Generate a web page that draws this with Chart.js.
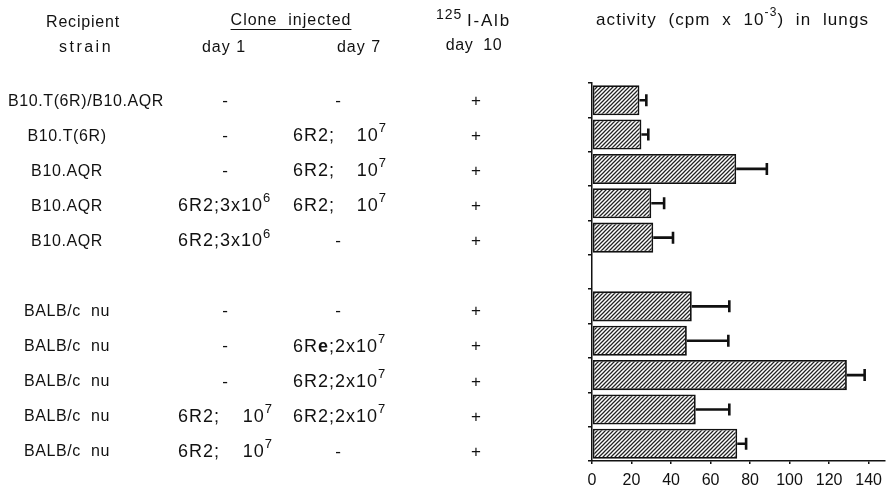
<!DOCTYPE html>
<html><head><meta charset="utf-8">
<script src="https://cdn.jsdelivr.net/npm/chart.js@4.4.0/dist/chart.umd.min.js"></script>
<style>html,body{margin:0;padding:0;background:#fff;overflow:hidden;} #wrap{width:891px;height:488px;}</style>
</head><body><div id="wrap"><canvas id="c" width="891" height="488"></canvas></div>
<script>
// ---- data ----
const strains = ['B10.T(6R)/B10.AQR','B10.T(6R)','B10.AQR','B10.AQR','B10.AQR','','BALB/c  nu','BALB/c  nu','BALB/c  nu','BALB/c  nu','BALB/c  nu'];
const cloneDay1 = ['-','-','-','6R2;3x10^6','6R2;3x10^6','','-','-','-','6R2;10^7','6R2;10^7'];
const cloneDay7 = ['-','6R2;10^7','6R2;10^7','6R2;10^7','-','','-','6R*e*;2x10^7','6R2;2x10^7','6R2;2x10^7','-'];
const albDay10 = ['+','+','+','+','+','','+','+','+','+','+'];
const activity = [24,25,73,30,31,null,50.5,48,129,52.5,73.5];
const activityErr = [3.5,3.5,15.5,6.5,10,null,19,21,9,17,4.5];
const xTicks = [0,20,40,60,80,100,120,140];

const FAM = '"Liberation Sans", Arial, Helvetica, sans-serif';
const canvas = document.getElementById('c');
const ctx0 = canvas.getContext('2d');

function hatch(){
  const s=4, c=document.createElement('canvas'); c.width=s; c.height=s;
  const g=c.getContext('2d'); g.fillStyle='#fff'; g.fillRect(0,0,s,s);
  g.strokeStyle='#222'; g.lineWidth=1.25; g.lineCap='square';
  g.beginPath();
  g.moveTo(0,s); g.lineTo(s,0);
  g.moveTo(-1,1); g.lineTo(1,-1);
  g.moveTo(s-1,s+1); g.lineTo(s+1,s-1);
  g.stroke();
  return ctx0.createPattern(c,'repeat');
}

function parseRich(str){
  const segs=[]; let sup=false,bold=false,buf='';
  const push=()=>{ if(buf){ segs.push({t:buf,sup,bold}); buf=''; } };
  for(const ch of str){
    if(ch==='^'){ push(); sup=!sup; }
    else if(ch==='*'){ push(); bold=!bold; }
    else buf+=ch;
  }
  push(); return segs;
}
function fontFor(seg,size){ return (seg.bold?'bold ':'')+(seg.sup?Math.round(size*0.72):size)+'px '+FAM; }
function measureRich(ctx,str,size,ls){
  ctx.letterSpacing=(ls||0)+'px';
  let w=0; parseRich(str).forEach(s=>{ ctx.font=fontFor(s,size); w+=ctx.measureText(s.t).width; });
  return w;
}
function drawRich(ctx,str,x,y,align,size,ls){
  const segs=parseRich(str); ctx.letterSpacing=(ls||0)+'px';
  let w=0; segs.forEach(s=>{ ctx.font=fontFor(s,size); s.w=ctx.measureText(s.t).width; w+=s.w; });
  let cx = align==='center' ? x-w/2 : align==='right' ? x-w : x;
  ctx.textAlign='left'; ctx.textBaseline='middle';
  segs.forEach(s=>{ ctx.font=fontFor(s,size); ctx.fillText(s.t,cx,s.sup?y-size*0.42:y); cx+=s.w; });
  return w;
}
function drawClone(ctx,v,left,right,dashX,py){
  if(!v) return;
  if(v==='-'){ drawRich(ctx,v,dashX,py,'center',17,0); return; }
  if(v.indexOf('x')>=0){ drawRich(ctx,v,left,py,'left',18,1.0); return; }
  const k=v.indexOf(';');
  drawRich(ctx,v.slice(0,k+1),left,py,'left',18,1.0);
  drawRich(ctx,v.slice(k+1),right,py,'right',18,1.0);
}

const errPlugin={id:'err',afterDatasetsDraw(chart){
  const ctx=chart.ctx, xs=chart.scales.x, meta=chart.getDatasetMeta(0);
  ctx.save(); ctx.strokeStyle='#111'; ctx.lineWidth=2.6; ctx.lineCap='butt';
  meta.data.forEach((bar,i)=>{
    if(activity[i]==null) return;
    const x0=xs.getPixelForValue(activity[i]), x1=xs.getPixelForValue(activity[i]+activityErr[i]);
    const yc=bar.y;
    ctx.beginPath(); ctx.moveTo(x0,yc); ctx.lineTo(x1,yc);
    ctx.moveTo(x1,yc-6); ctx.lineTo(x1,yc+6); ctx.stroke();
  });
  ctx.restore();
}};

const tablePlugin={id:'table',afterDraw(chart){
  const ctx=chart.ctx, ys=chart.scales.y;
  ctx.save(); ctx.fillStyle='#111';
  // headers
  drawRich(ctx,'Recipient',83,23,'center',16,0.8);
  drawRich(ctx,'strain',86,48,'center',16,2.5);
  const wc=drawRich(ctx,'Clone  injected',291,21,'center',16,1.0);
  ctx.strokeStyle='#111'; ctx.lineWidth=1.2;
  ctx.beginPath(); ctx.moveTo(291-wc/2,29.5); ctx.lineTo(291+wc/2,29.5); ctx.stroke();
  drawRich(ctx,'day 1',224,48,'center',16,1);
  drawRich(ctx,'day 7',359,48,'center',16,1);
  // 125I-Alb
  ctx.letterSpacing='1px'; ctx.font='14px '+FAM; ctx.textAlign='left'; ctx.textBaseline='middle';
  ctx.fillText('125',436,15);
  ctx.letterSpacing='1.8px'; ctx.font='17px '+FAM;
  ctx.fillText('I-Alb',467,21);
  drawRich(ctx,'day  10',474,46,'center',16,0.6);
  drawRich(ctx,'activity  (cpm  x  10^-3^)  in  lungs',596,20,'left',17,1.1);
  // rows
  strains.forEach((s,i)=>{
    if(!s) return;
    const py=ys.getPixelForValue(i)+1+0.72*i;
    const w=measureRich(ctx,s,16,0.6);
    drawRich(ctx,s,Math.max(67,8+w/2),py,'center',16,0.6);
    drawClone(ctx,cloneDay1[i],178,273,225,py);
    drawClone(ctx,cloneDay7[i],293,387,338,py);
    drawRich(ctx,albDay10[i],476,py,'center',17,0);
  });
  ctx.restore();
}};

new Chart(ctx0,{
  type:'bar',
  data:{
    labels:strains.map((s,i)=>String(i)),
    datasets:[{data:activity, backgroundColor:hatch(), borderColor:'#111', borderWidth:1.8,
      borderSkipped:false, barPercentage:0.875, categoryPercentage:1}]
  },
  options:{
    indexAxis:'y', responsive:false, animation:false, devicePixelRatio:1,
    layout:{padding:{left:588,top:83,right:1,bottom:0}},
    plugins:{legend:{display:false},tooltip:{enabled:false}},
    scales:{
      x:{type:'linear',min:0,max:148,
        afterBuildTicks(s){ s.ticks=xTicks.map(v=>({value:v})); },
        afterFit(s){ s.height=27; },
        grid:{drawOnChartArea:false,tickLength:3,color:'#111',lineWidth:1.5},
        border:{color:'#111',width:1.5},
        ticks:{color:'#111',padding:9,font:{family:FAM,size:16,lineHeight:1}}},
      y:{afterFit(s){ s.width=4; },
        grid:{offset:true,drawOnChartArea:false,tickLength:4,color:'#111',lineWidth:1.5},
        border:{color:'#111',width:1.5},
        ticks:{display:false}}
    }
  },
  plugins:[errPlugin,tablePlugin]
});
</script>
</body></html>
